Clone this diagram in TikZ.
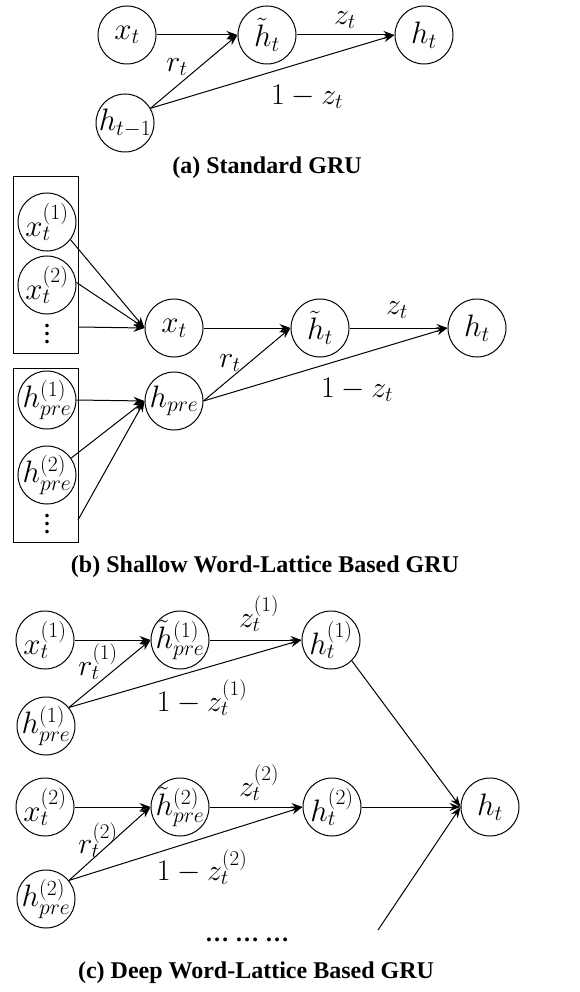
\RequirePackage{fix-cm}
\documentclass[tikz,border=0pt]{standalone}
\usepackage[no-math]{fontspec}
\newfontfamily\capfont{Liberation Serif}
\usetikzlibrary{arrows.meta}
\begin{document}
\begin{tikzpicture}[x = 1pt, y = -1pt,
	unit/.style = {circle, draw, line width = 1pt, minimum size = 58pt, inner sep = -12pt, font = \fontsize{31}{34}\selectfont},
	gate/.style = {line width = 1pt, -{Stealth[length = 11pt, width = 8pt]}},
	lbl/.style = {font = \fontsize{30}{33}\selectfont},
	more/.style = {font = \capfont\bfseries\fontsize{22}{8}\selectfont, inner sep = 0pt, align = center},
	caption/.style = {font = \capfont\bfseries\fontsize{24}{28}\selectfont}]
	\useasboundingbox (0,0) rectangle (580,992);
	% (a) standard GRU
	\node[unit] (xa) at (127,35) {$x_t$};
	\node[unit] (hta) at (267,35) {$\tilde{h}_t$};
	\node[unit] (ha) at (424,35) {$h_t$};
	\node[unit] (hpa) at (125,123) {$h_{t-1}$};
	\draw[gate] (xa) -- (hta.west);
	\draw[gate] (hpa.30) -- (hta.west);
	\draw[gate] (hta) -- (ha.west);
	\draw[gate] (hpa.30) -- (ha.west);
	\node[lbl] (za) at (345,20) {$z_t$};
	\node[lbl] (ra) at (177,67) {$r_t$};
	\node[lbl] (oza) at (307,97) {$1-z_t$};
	\node[caption] (capa) at (267,168) {(a) Standard GRU};
	% (b) shallow word-lattice GRU
	\draw[line width = 1pt] (13,177) rectangle (78,353);
	\draw[line width = 1pt] (13,368) rectangle (78,542);
	\node[unit] (xb1) at (47,222) {$x_t^{(1)}$};
	\node[unit] (xb2) at (47,285) {$x_t^{(2)}$};
	\node[more] (xbd) at (47,334) {.\\.\\.};
	\node[unit] (hb1) at (47,400) {$h_{pre}^{(1)}$};
	\node[unit] (hb2) at (47,475) {$h_{pre}^{(2)}$};
	\node[more] (hbd) at (47,524) {.\\.\\.};
	\coordinate (xbm) at (78,327);
	\coordinate (hbm) at (78,520);
	\node[unit] (xb) at (174,328) {$x_t$};
	\node[unit] (hpb) at (174,401) {$h_{pre}$};
	\node[unit] (htb) at (320,328) {$\tilde{h}_t$};
	\node[unit] (hb) at (477,328) {$h_t$};
	\draw[gate] (xb1.-37) -- (xb.west);
	\draw[gate] (xb2.5) -- (xb.west);
	\draw[gate] (xbm) -- (xb.west);
	\draw[gate] (hb1.east) -- (hpb.west);
	\draw[gate] (hb2.35) -- (hpb.west);
	\draw[gate] (hbm) -- (hpb.west);
	\draw[gate] (xb) -- (htb.west);
	\draw[gate] (hpb.east) -- (htb.west);
	\draw[gate] (htb) -- (hb.west);
	\draw[gate] (hpb.east) -- (hb.west);
	\node[lbl] (zb) at (397,310) {$z_t$};
	\node[lbl] (rb) at (230,363) {$r_t$};
	\node[lbl] (ozb) at (357,390) {$1-z_t$};
	\node[caption] (capb) at (265,567) {(b) Shallow Word-Lattice Based GRU};
	% (c) deep word-lattice GRU
	\node[unit] (xc1) at (45,640) {$x_t^{(1)}$};
	\node[unit] (htc1) at (180,640) {$\tilde{h}_{pre}^{(1)}$};
	\node[unit] (hc1) at (331,640) {$h_t^{(1)}$};
	\node[unit] (hpc1) at (46,726) {$h_{pre}^{(1)}$};
	\node[unit] (xc2) at (45,807) {$x_t^{(2)}$};
	\node[unit] (htc2) at (180,807) {$\tilde{h}_{pre}^{(2)}$};
	\node[unit] (hc2) at (332,807) {$h_t^{(2)}$};
	\node[unit] (hpc2) at (46,899) {$h_{pre}^{(2)}$};
	\node[unit] (hc) at (490,807) {$h_t$};
	\coordinate (hcm) at (378,930);
	\draw[gate] (xc1) -- (htc1.west);
	\draw[gate] (hpc1.39) -- (htc1.west);
	\draw[gate] (htc1) -- (hc1.west);
	\draw[gate] (hpc1.39) -- (hc1.west);
	\draw[gate] (xc2) -- (htc2.west);
	\draw[gate] (hpc2.39) -- (htc2.west);
	\draw[gate] (htc2) -- (hc2.west);
	\draw[gate] (hpc2.39) -- (hc2.west);
	\draw[gate] (hc1.-45) -- (hc.west);
	\draw[gate] (hc2) -- (hc.west);
	\draw[gate] (hcm) -- (hc.west);
	\node[lbl] (zc1) at (259,614) {$z_t^{(1)}$};
	\node[lbl] (rc1) at (98,662) {$r_t^{(1)}$};
	\node[lbl] (ozc1) at (202,698) {$1-z_t^{(1)}$};
	\node[lbl] (zc2) at (259,783) {$z_t^{(2)}$};
	\node[lbl] (rc2) at (98,840) {$r_t^{(2)}$};
	\node[lbl] (ozc2) at (202,867) {$1-z_t^{(2)}$};
	\node[caption] (dots) at (247,940) {… … …};
	\node[caption] (capc) at (256,973) {(c) Deep Word-Lattice Based GRU};
\end{tikzpicture}
\end{document}
